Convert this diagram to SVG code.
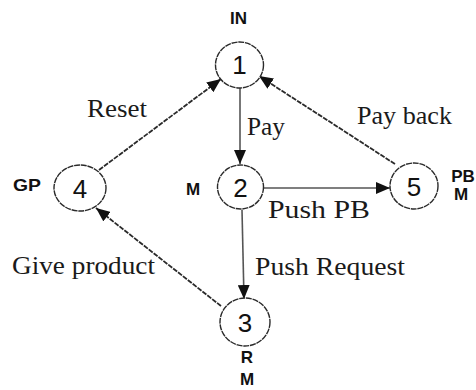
<svg xmlns="http://www.w3.org/2000/svg" width="476" height="390" viewBox="0 0 476 390">
  <style>
    .state ellipse { fill: #ffffff; stroke: #2a2a2a; stroke-width: 1.4; stroke-dasharray: 6 0.8; }
    .num { font-family: "Liberation Sans", Arial, sans-serif; font-size: 26px; fill: #111; text-anchor: middle; }
    .tag { font-family: "Liberation Sans", Arial, sans-serif; font-size: 17px; font-weight: bold; fill: #111; text-anchor: middle; }
    .lbl { font-family: "Liberation Serif", "Times New Roman", serif; font-size: 25px; fill: #1a1a1a; }
    .solid { stroke: #555; stroke-width: 1.6; fill: none; }
    .dash { stroke: #2a2a2a; stroke-width: 1.8; stroke-dasharray: 5 1.2; fill: none; }
  </style>
  <defs>
    <marker id="arrow" viewBox="0 0 14 12" refX="14" refY="6" markerWidth="14" markerHeight="12" markerUnits="userSpaceOnUse" orient="auto">
      <path d="M0,0 L14,6 L0,12 Z" fill="#111"/>
    </marker>
  </defs>

  <rect width="476" height="390" fill="#ffffff"/>

  <!-- transitions -->
  <g id="connectors">
    <line class="solid" x1="240" y1="88" x2="240" y2="164" marker-end="url(#arrow)"/>
    <line class="solid" x1="264" y1="188" x2="390" y2="188" marker-end="url(#arrow)"/>
    <line class="solid" x1="242" y1="210" x2="244" y2="299" marker-end="url(#arrow)"/>
    <line class="dash" x1="99" y1="170" x2="221" y2="79" marker-end="url(#arrow)"/>
    <line class="dash" x1="395" y1="164" x2="259" y2="76" marker-end="url(#arrow)"/>
    <line class="dash" x1="221" y1="306" x2="96" y2="208" marker-end="url(#arrow)"/>
  </g>

  <!-- transition labels -->
  <g id="labels">
    <text class="lbl" x="87" y="117" textLength="60" lengthAdjust="spacingAndGlyphs">Reset</text>
    <text class="lbl" x="247" y="135" textLength="38" lengthAdjust="spacingAndGlyphs">Pay</text>
    <text class="lbl" x="357" y="124" textLength="95" lengthAdjust="spacingAndGlyphs">Pay back</text>
    <text class="lbl" x="268" y="218" textLength="102" lengthAdjust="spacingAndGlyphs">Push PB</text>
    <text class="lbl" x="255" y="275" textLength="150" lengthAdjust="spacingAndGlyphs">Push Request</text>
    <text class="lbl" x="12" y="274" textLength="143" lengthAdjust="spacingAndGlyphs">Give product</text>
  </g>

  <!-- states -->
  <g id="node1" class="state">
    <ellipse cx="239.5" cy="65" rx="24" ry="23"/>
    <text class="num" x="239.5" y="74">1</text>
    <text class="tag" x="238.5" y="24">IN</text>
  </g>
  <g id="node2" class="state">
    <ellipse cx="240.5" cy="187" rx="23" ry="22"/>
    <text class="num" x="240.5" y="197">2</text>
    <text class="tag" x="193" y="195">M</text>
  </g>
  <g id="node3" class="state">
    <ellipse cx="245" cy="322" rx="25" ry="24"/>
    <text class="num" x="245" y="332">3</text>
    <text class="tag" x="247" y="363">R</text>
    <text class="tag" x="247" y="385">M</text>
  </g>
  <g id="node4" class="state">
    <ellipse cx="80" cy="188" rx="26" ry="23"/>
    <text class="num" x="80" y="198">4</text>
    <text class="tag" x="27" y="191" textLength="28" lengthAdjust="spacingAndGlyphs">GP</text>
  </g>
  <g id="node5" class="state">
    <ellipse cx="414" cy="186" rx="24" ry="23"/>
    <text class="num" x="414" y="196">5</text>
    <text class="tag" x="463" y="182">PB</text>
    <text class="tag" x="461" y="200">M</text>
  </g>
</svg>
